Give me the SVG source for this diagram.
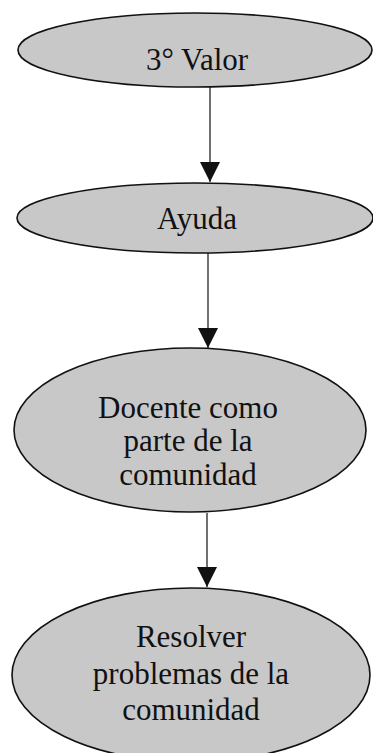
<svg xmlns="http://www.w3.org/2000/svg" width="373" height="753" viewBox="0 0 373 753">
<defs>
<style>
.node ellipse{fill:#c8c8c8;stroke:#111;stroke-width:1.6}
.node text{font-family:"Liberation Serif","Times New Roman",serif;font-size:31px;fill:#111;text-anchor:middle}
.conn line{stroke:#111;stroke-width:1.2}
</style>
<marker id="ah" markerUnits="userSpaceOnUse" markerWidth="20" markerHeight="24" refX="20" refY="10" orient="auto" viewBox="0 0 20 20">
<path d="M0,0 L20,10 L0,20 Z" fill="#111"/>
</marker>
</defs>
<rect width="373" height="753" fill="#fff"/>
<g id="connectors" class="conn">
<line x1="210" y1="87" x2="210" y2="182" marker-end="url(#ah)"/>
<line x1="208" y1="253" x2="208" y2="348" marker-end="url(#ah)"/>
<line x1="207" y1="513" x2="207" y2="587" marker-end="url(#ah)"/>
</g>
<g id="n1" class="node">
<ellipse cx="195" cy="50" rx="177" ry="37"/>
<text x="197" y="70">3° Valor</text>
</g>
<g id="n2" class="node">
<ellipse cx="195" cy="218" rx="178" ry="35"/>
<text x="197" y="229">Ayuda</text>
</g>
<g id="n3" class="node">
<ellipse cx="190" cy="430" rx="176" ry="82"/>
<text x="188" y="418">Docente como</text>
<text x="188" y="451">parte de la</text>
<text x="188" y="485">comunidad</text>
</g>
<g id="n4" class="node">
<ellipse cx="191" cy="675" rx="179" ry="87"/>
<text x="191" y="647">Resolver</text>
<text x="191" y="684">problemas de la</text>
<text x="191" y="720">comunidad</text>
</g>
</svg>
